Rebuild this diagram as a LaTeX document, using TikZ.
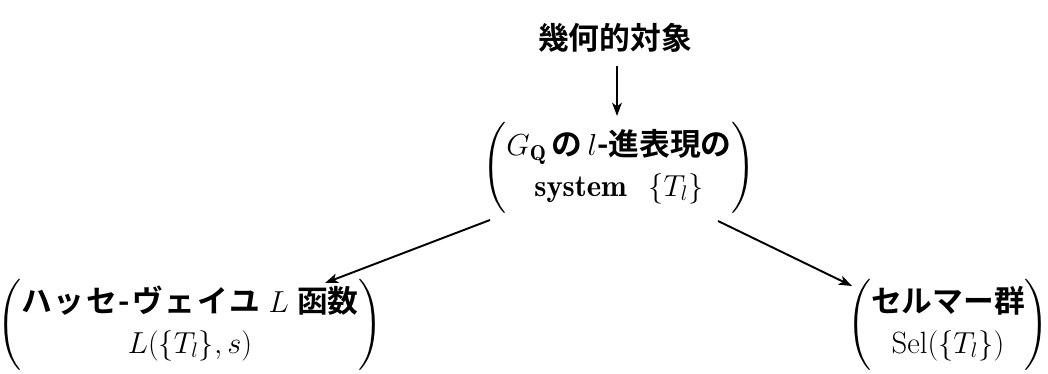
\documentclass[tikz,border=0pt]{standalone}
\usepackage{amsmath}
\usepackage{fontspec}
\newfontfamily\cjk{Noto Sans CJK JP}[BoldFont={Noto Sans CJK JP Bold}]
\newfontfamily\cjkw{Noto Sans CJK JP}[BoldFont={Noto Sans CJK JP Bold}, LetterSpace=6]
\usetikzlibrary{arrows.meta,calc}
\newcommand{\jp}[1]{{\cjk\bfseries #1}}
\newcommand{\jpw}[1]{{\cjkw\bfseries #1}}
\renewcommand{\arraystretch}{1.1}
\tikzset{
  lbl/.style={inner sep=0pt, font=\fontsize{17.5}{21}\selectfont},
  arr/.style={line width=1.1pt, -{Stealth[length=7.5pt,width=5.5pt,inset=2pt]}}
}
\begin{document}
\begin{tikzpicture}[x=0.02cm,y=0.02cm]
\useasboundingbox (0,0) rectangle (1048,374);
\node[lbl] (top) at (615,336) {\jp{幾何的対象}};
\node[lbl] (mid) at (619,206) {$\Biggl(\begin{array}{@{}c@{}} G_{\mathbf{Q}}\,\text{\jp{の}}\,l\text{\jp{-進表現の}}\\ \mathbf{system}\hskip0.7em \{T_l\}\end{array}\Biggr)$};
\node[lbl] (bl) at (190,49) {$\Biggl(\begin{array}{@{}c@{}}\text{\jpw{ハッセ-ヴェイユ}}\;L\;\text{\jp{函数}}\\ L(\{T_l\},s)\end{array}\Biggr)$};
\node[lbl] (br) at (948,49) {$\Biggl(\begin{array}{@{}c@{}}\text{\jp{セルマー群}}\\ \mathrm{Sel}(\{T_l\})\end{array}\Biggr)$};
\draw[arr] ($(top.center)+(2,-28)$) -- ($(mid.center)+(-2,52)$);
\draw[arr] ($(mid.center)+(-129,-52)$) -- ($(bl.center)+(135,42)$);
\draw[arr] ($(mid.center)+(99,-53)$) -- ($(br.center)+(-96,39)$);
\end{tikzpicture}
\end{document}
